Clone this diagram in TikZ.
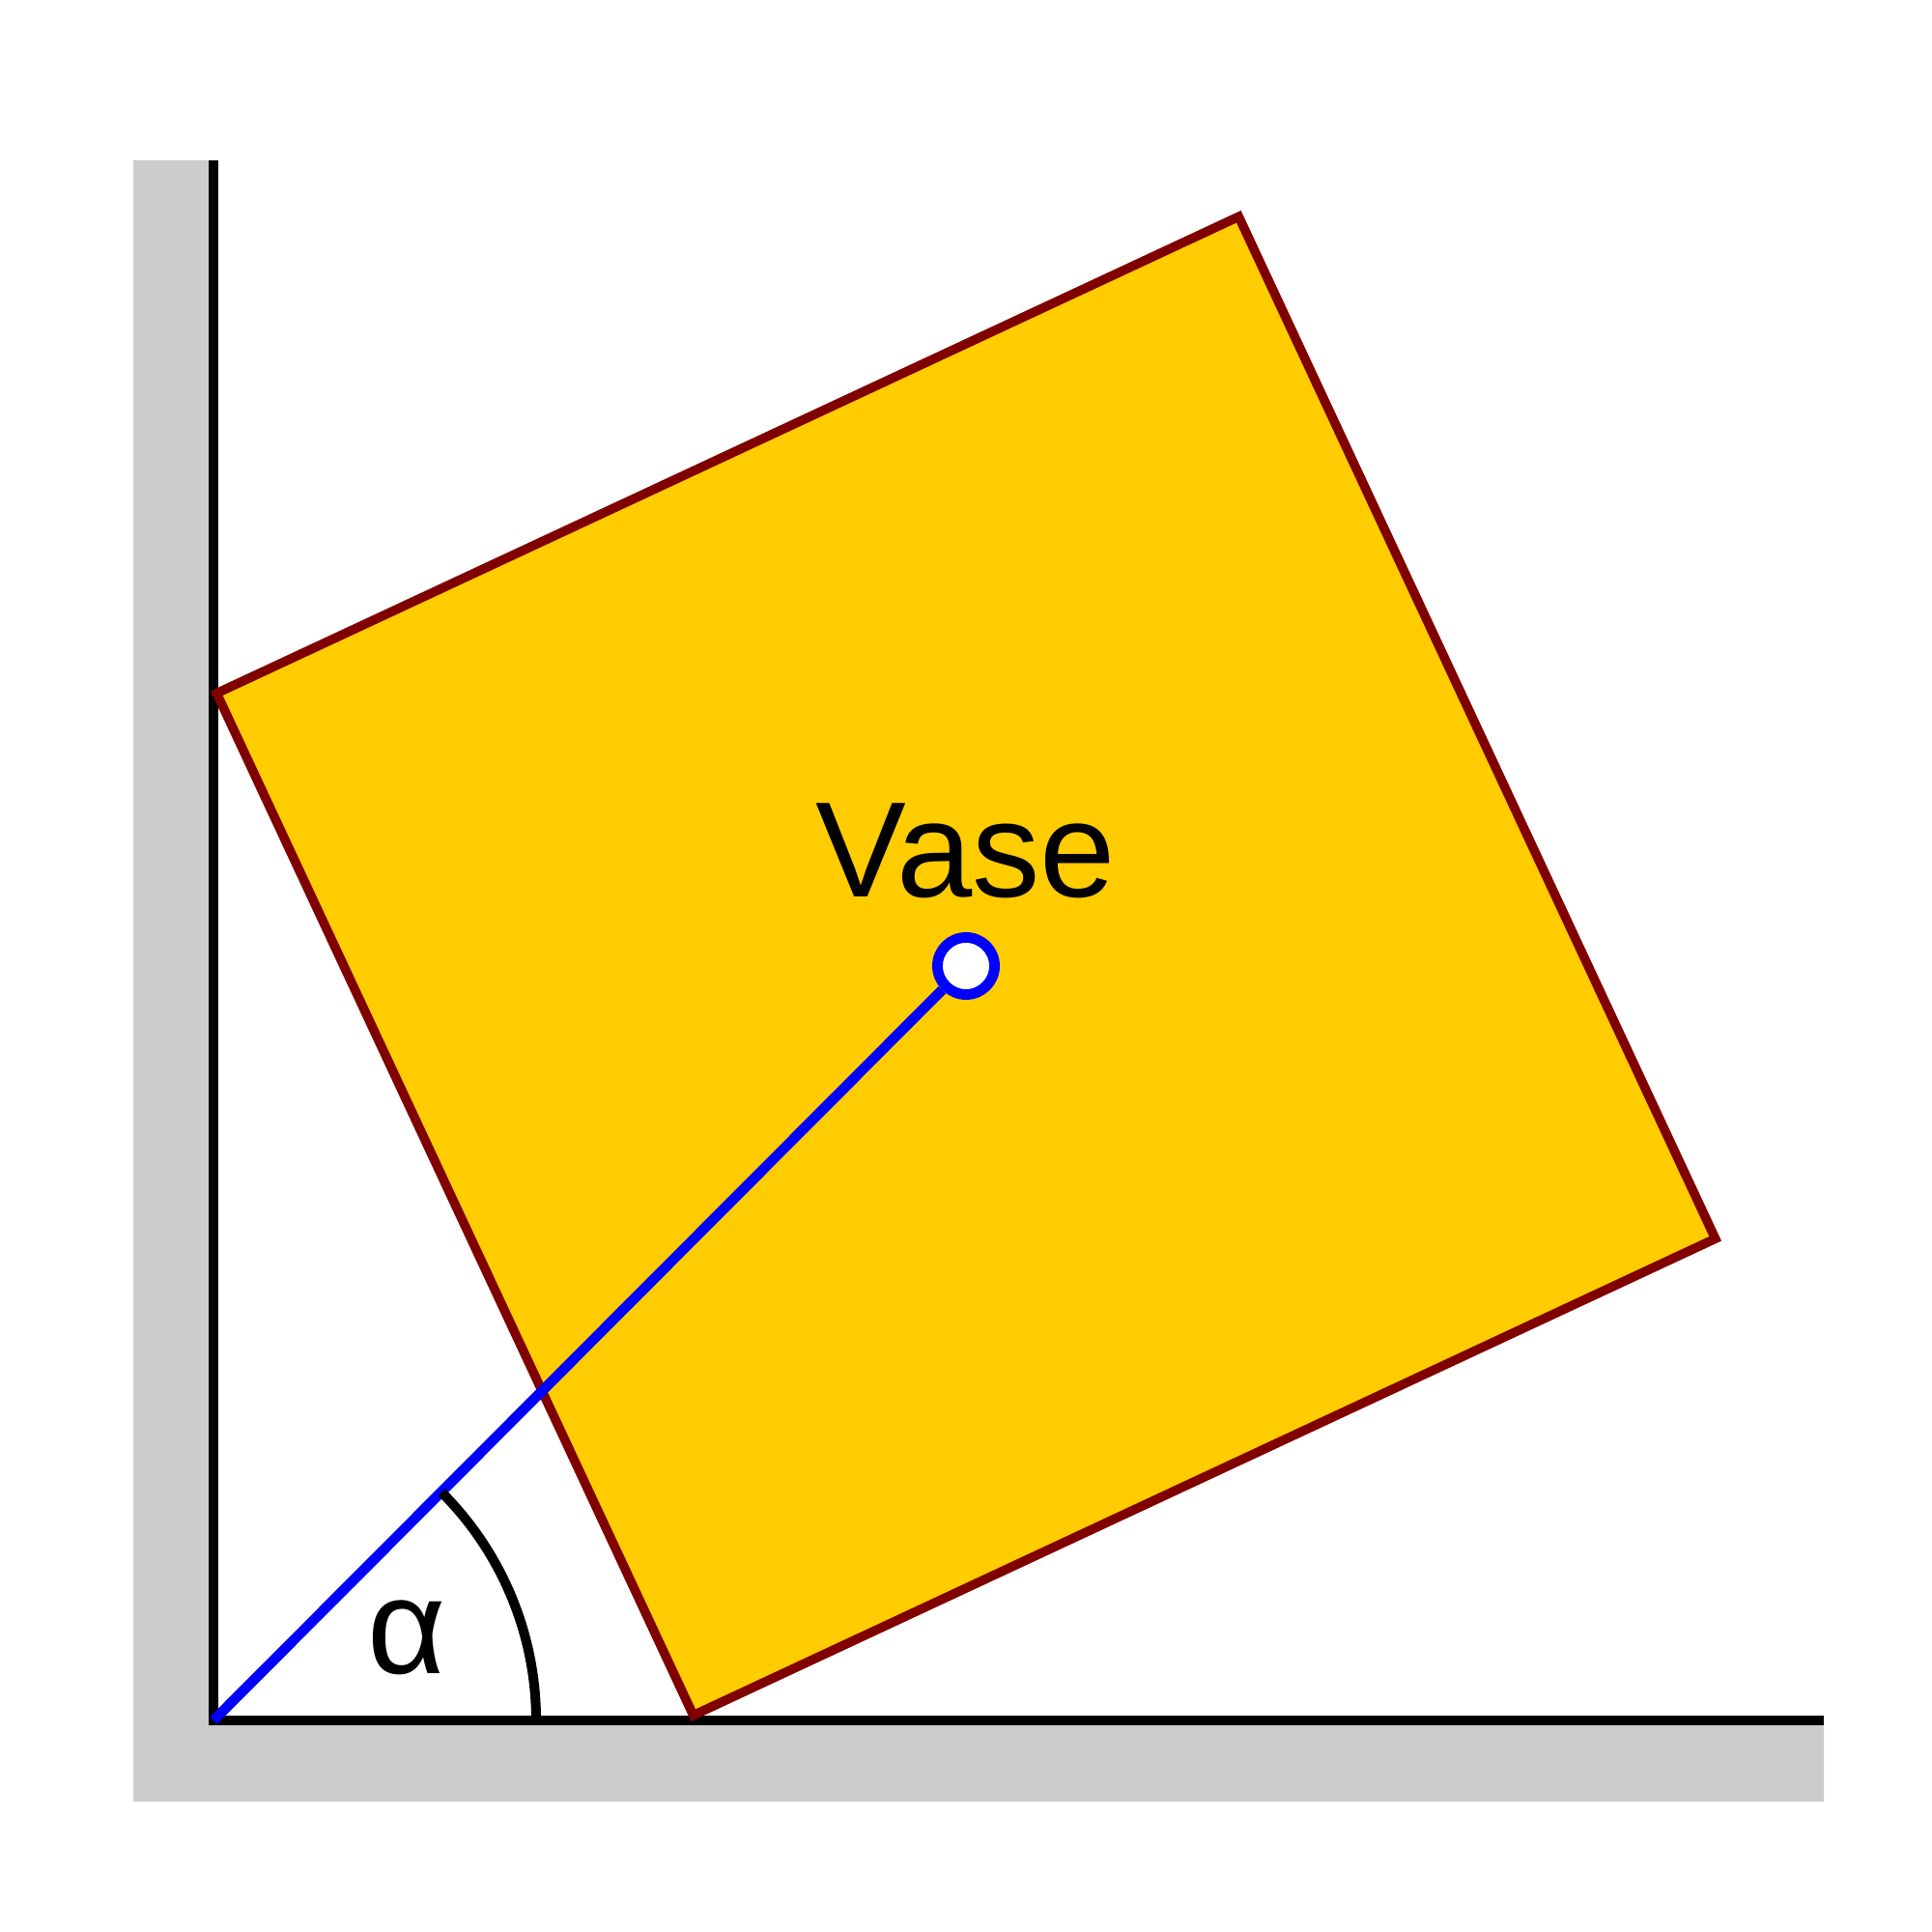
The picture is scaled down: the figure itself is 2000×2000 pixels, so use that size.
\documentclass[tikz,border=0pt]{standalone}
\usepackage{fontspec}
\setmainfont{Liberation Sans}
\definecolor{wallgray}{HTML}{CCCCCC}
\definecolor{vaseyellow}{HTML}{FFCC00}
\definecolor{vaserim}{HTML}{800000}
\begin{document}
\begin{tikzpicture}[x=0.01cm, y=0.01cm]
    \useasboundingbox (0, 0) rectangle (2000, 2000);

    \coordinate (o) at (221, 219);
    \coordinate (wtop) at (221, 1834);
    \coordinate (fend) at (1888, 219);

    \fill [wallgray] (138, 1834) -- (wtop) -- (o) -- (fend) -- (1888, 135)
    -- (138, 135) -- cycle;

    \draw [line width=3.1pt] (wtop) -- (o) -- (fend);

    \coordinate (v1) at (224.3, 1282.3);
    \coordinate (v2) at (1282.3, 1775.7);
    \coordinate (v3) at (1775.7, 717.7);
    \coordinate (v4) at (717.7, 224.3);

    \draw [vaserim, fill=vaseyellow, line width=2.7pt] (v1) -- (v2) -- (v3)
    -- (v4) -- cycle;

    \node [anchor=center,circle,draw=blue,fill=white,inner sep=0pt,
    minimum size=0.59cm,line width=3.1pt] (cg) at (1000, 1000) {};

    \draw [blue, line width=3pt] (o) -- (cg);

    \draw [line width=2.85pt] (555, 219) arc [start angle=0, end angle=45,
    radius=334];

    \node [anchor=base,inner sep=0pt,font=\fontsize{40}{48}\selectfont]
    (vase) at (1000, 1071) {Vase};

    \node [anchor=base,inner sep=0pt,font=\fontsize{40}{48}\selectfont]
    (alpha) at (421, 267) {α};
  \end{tikzpicture}
\end{document}
